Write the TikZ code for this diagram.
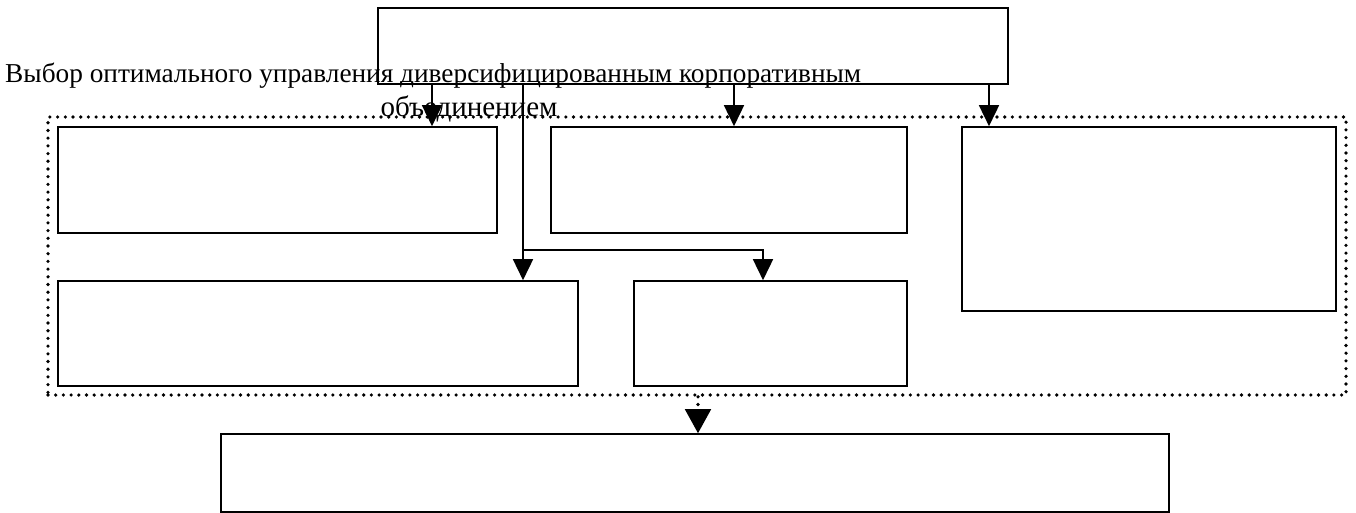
\documentclass[tikz,border=0pt]{standalone}
\usepackage{fontspec}
\setmainfont{Liberation Serif}
\usetikzlibrary{arrows.meta}
\tikzset{
  box/.style={draw, line width=1.6pt, inner sep=0pt, rectangle},
  arr/.style={line width=1.6pt, -{Triangle[width=20pt,length=21pt]}},
  dotbox/.style={draw, line width=3.6pt, line cap=round, dash pattern=on 0pt off 7.7pt, inner sep=0pt, rectangle},
  ttl/.style={inner sep=0pt, font=\fontsize{27.3}{32}\selectfont}
}
\begin{document}
\begin{tikzpicture}[x=1pt,y=-1pt]
\useasboundingbox (0,0) rectangle (1356,513);
\node[dotbox, minimum width=1298pt, minimum height=278pt] (grp) at (697,256) {};
\node[box, minimum width=630pt, minimum height=76pt] (top) at (693,46) {};
\node[box, minimum width=439pt, minimum height=106pt] (b1) at (277.5,180) {};
\node[box, minimum width=356pt, minimum height=106pt] (b2) at (729,180) {};
\node[box, minimum width=374pt, minimum height=184pt] (b3) at (1149,219) {};
\node[box, minimum width=520pt, minimum height=105pt] (b4) at (318,333.5) {};
\node[box, minimum width=273pt, minimum height=105pt] (b5) at (770.5,333.5) {};
\node[box, minimum width=948pt, minimum height=78pt] (bot) at (695,473) {};
\node[ttl, anchor=base west] (t1) at (5,83) {Выбор оптимального управления диверсифицированным корпоративным};
\node[ttl, anchor=base] (t2) at (469,117) {\fontsize{29}{32}\selectfont объединением};
\coordinate (c1) at (432,0);
\coordinate (c2) at (734,0);
\coordinate (c3) at (989,0);
\coordinate (c4) at (523,0);
\coordinate (c5) at (763,0);
\coordinate (c6) at (698,0);
\coordinate (br) at (523,250);
\draw[arr] (top.south -| c1) -- (b1.north -| c1);
\draw[arr] (top.south -| c2) -- (b2.north -| c2);
\draw[arr] (top.south -| c3) -- (b3.north -| c3);
\draw[arr] (top.south -| c4) -- (b4.north -| c4);
\draw[arr] (br) -| (b5.north -| c5);
\draw[line width=3.6pt, line cap=round, dash pattern=on 0pt off 7.7pt] (grp.south -| c6) -- ++(0,8);
\draw[line width=1.6pt, -{Triangle[width=26pt,length=24pt]}] (grp.south -| c6) ++(0,14) -- (bot.north -| c6);
\end{tikzpicture}
\end{document}
